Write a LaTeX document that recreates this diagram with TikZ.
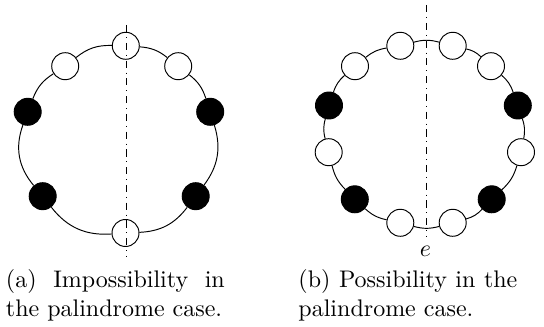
\documentclass[tikz,border=0pt]{standalone}

\begin{document}
\begin{tikzpicture}[x=0.4167pt, y=-0.4167pt,
    wnode/.style={circle, draw, fill=white, inner sep=0pt, minimum size=11.25pt},
    bnode/.style={circle, draw, fill=black, inner sep=0pt, minimum size=11.25pt},
    symaxis/.style={dash dot},
    capt/.style={anchor=base west, text width=91.2pt, align=justify, inner sep=0pt}]
      \useasboundingbox (0,0) rectangle (544,327);

      \node[wnode] (a0) at (125.8,45.8) {};
      \node[wnode] (a1) at (65.2,66.2) {};
      \node[bnode] (a2) at (27.7,111.8) {};
      \node[bnode] (a3) at (42.7,196.2) {};
      \node[wnode] (a4) at (125.5,233) {};
      \node[bnode] (a5) at (195.7,196.2) {};
      \node[bnode] (a6) at (210.2,111.8) {};
      \node[wnode] (a7) at (178.2,66.2) {};
      \draw (a0) to[bend right=20] (a1);
      \draw (a1) to[bend right=18] (a2);
      \draw (a2) to[bend right=30] (a3);
      \draw (a3) to[bend right=28] (a4);
      \draw (a4) to[bend right=25] (a5);
      \draw (a5) to[bend right=27] (a6);
      \draw (a6) to[bend right=17] (a7);
      \draw (a7) to[bend right=17] (a0);
      \coordinate (atop) at (126,25);
      \coordinate (abot) at (126,257);
      \draw[symaxis] (atop) -- (abot);
      \node[capt] (capa) at (5.5,288) {(a) Impossibility in the palindrome case.};

      \node[wnode] (b0) at (400.3,45.8) {};
      \node[wnode] (b1) at (355,66.2) {};
      \node[bnode] (b2) at (329,105.5) {};
      \node[wnode] (b3) at (328.7,152.2) {};
      \node[bnode] (b4) at (354.8,199.3) {};
      \node[wnode] (b5) at (400.3,222.8) {};
      \node[wnode] (b6) at (452.7,222.8) {};
      \node[bnode] (b7) at (491.7,199.3) {};
      \node[wnode] (b8) at (521,152.2) {};
      \node[bnode] (b9) at (517.8,105.5) {};
      \node[wnode] (b10) at (491,66.2) {};
      \node[wnode] (b11) at (452.7,45.8) {};
      \draw (b0) to[bend right=15] (b1);
      \draw (b1) to[bend right=15] (b2);
      \draw (b2) to[bend right=15] (b3);
      \draw (b3) to[bend right=15] (b4);
      \draw (b4) to[bend right=15] (b5);
      \draw (b5) to[bend right=15] (b6);
      \draw (b6) to[bend right=15] (b7);
      \draw (b7) to[bend right=15] (b8);
      \draw (b8) to[bend right=15] (b9);
      \draw (b9) to[bend right=15] (b10);
      \draw (b10) to[bend right=15] (b11);
      \draw (b11) to[bend right=15] (b0);
      \coordinate (btop) at (426.3,5);
      \coordinate (bbot) at (426.3,236.7);
      \draw[symaxis] (btop) -- (bbot);
      \node (e) at (425.5,251) {$e$};
      \node[capt] (capb) at (298,288) {(b) Possibility in the palindrome case.};
    \end{tikzpicture}
\end{document}
